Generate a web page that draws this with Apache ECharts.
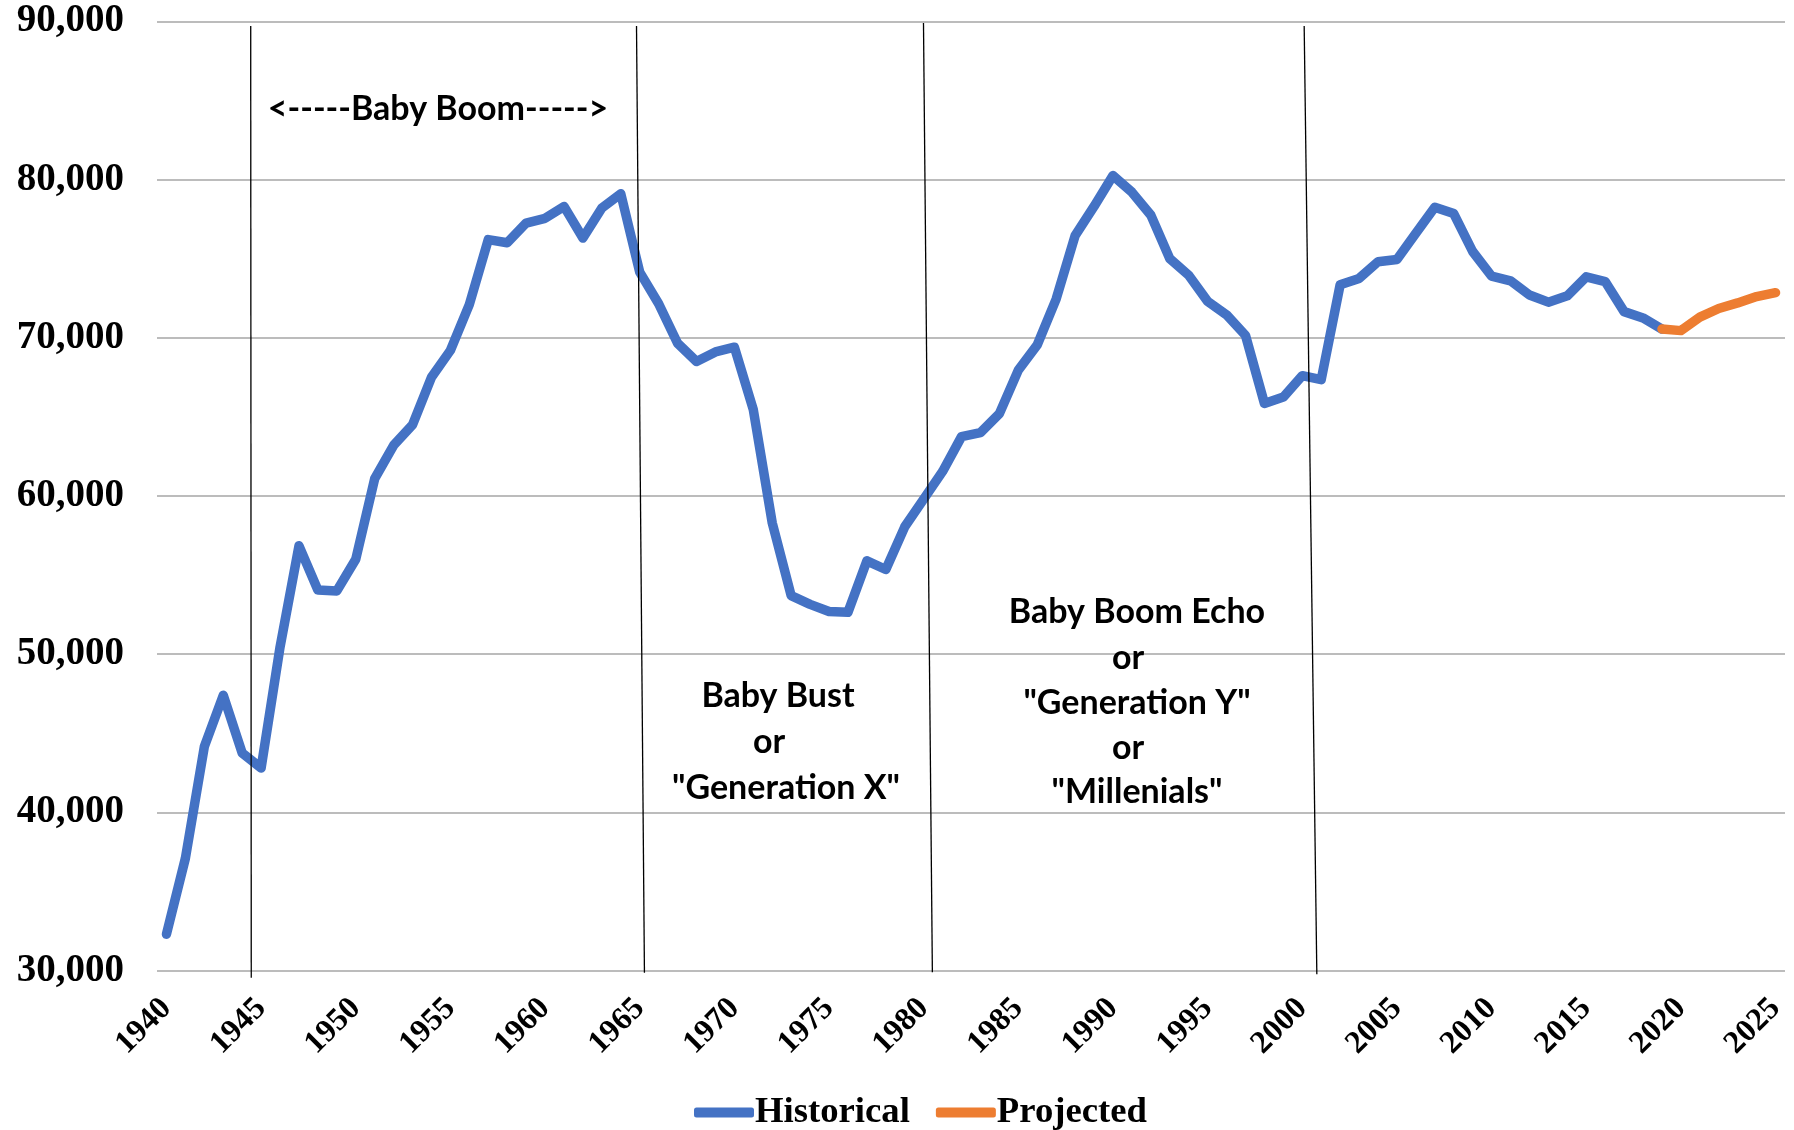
<!DOCTYPE html>
<html>
<head>
<meta charset="utf-8">
<script src="https://cdn.jsdelivr.net/npm/echarts@6/dist/echarts.min.js"></script>
<style>
html,body{margin:0;padding:0;background:#fff;}
#chart{width:1794px;height:1130px;}
</style>
</head>
<body>
<div id="chart"></div>
<script>
const years = ['1940','1941','1942','1943','1944','1945','1946','1947','1948','1949',
'1950','1951','1952','1953','1954','1955','1956','1957','1958','1959',
'1960','1961','1962','1963','1964','1965','1966','1967','1968','1969',
'1970','1971','1972','1973','1974','1975','1976','1977','1978','1979',
'1980','1981','1982','1983','1984','1985','1986','1987','1988','1989',
'1990','1991','1992','1993','1994','1995','1996','1997','1998','1999',
'2000','2001','2002','2003','2004','2005','2006','2007','2008','2009',
'2010','2011','2012','2013','2014','2015','2016','2017','2018','2019',
'2020','2021','2022','2023','2024','2025'];

// Historical 1940-2019
const historical = [32300,37100,44150,47400,43750,42800,50450,56850,54050,54000,
56000,61100,63200,64500,67500,69200,72100,76200,76000,77250,
77550,78300,76300,78200,79100,74150,72150,69650,68500,69100,
69400,65450,58300,53700,53150,52700,52650,55900,55350,58050,
59800,61550,63750,64000,65200,67950,69550,72450,76450,78300,
80250,79200,77750,75000,73950,72300,71450,70150,65850,66250,
67600,67350,73350,73750,74800,74950,76600,78250,77850,75450,
73900,73600,72700,72250,72650,73850,73550,71650,71250,70550];

// Projected 2019-2025
const projectedYears = ['2019','2020','2021','2022','2023','2024','2025'];
const projected = [70550,70450,71300,71850,72200,72600,72850];

const yTicks = [30000,40000,50000,60000,70000,80000,90000];

// Generation separator lines: [yearTop, valueTop, yearBottom, valueBottom]
const separators = [
  [1944.45, 89700, 1944.48, 29550],
  [1964.83, 89700, 1965.25, 29870],
  [1979.99, 89900, 1980.46, 29900],
  [2000.10, 89700, 2000.77, 29770]
];

const annotations = [
  {text:'<-----Baby Boom----->', x:438, y:109},
  {text:'Baby Bust', x:778, y:696},
  {text:'or', x:769, y:742},
  {text:'"Generation X"', x:786, y:788},
  {text:'Baby Boom Echo', x:1137, y:612},
  {text:'or', x:1128, y:658},
  {text:'"Generation Y"', x:1137, y:703},
  {text:'or', x:1128, y:748},
  {text:'"Millenials"', x:1137, y:792}
];

const chart = echarts.init(document.getElementById('chart'));

const series = [
  {
    name:'Historical', type:'line', data: historical,
    showSymbol:false, symbol:'none',
    lineStyle:{color:'#4472C4', width:9.5, cap:'round', join:'round'},
    itemStyle:{color:'#4472C4'}, z:3
  },
  {
    name:'Projected', type:'line',
    data: projectedYears.map((y,i)=>[y, projected[i]]),
    showSymbol:false, symbol:'none',
    lineStyle:{color:'#ED7D31', width:9.5, cap:'round', join:'round'},
    itemStyle:{color:'#ED7D31'}, z:4
  }
];
separators.forEach(s=>{
  series.push({
    type:'line', xAxisIndex:1, yAxisIndex:0, silent:true, clip:false,
    symbol:'none', showSymbol:false,
    data:[[s[0],s[1]],[s[2],s[3]]],
    lineStyle:{color:'#000', width:1.3}, z:5
  });
});

chart.setOption({
  animation:false,
  backgroundColor:'#fff',
  grid:{left:157, right:9, top:21.3, bottom:159.4, containLabel:false},
  xAxis:[
    {
      type:'category', data: years, boundaryGap:true,
      axisLine:{show:false}, axisTick:{show:false},
      axisLabel:{interval:4, rotate:45, margin:33, color:'#000',
        fontFamily:'Liberation Serif', fontWeight:'bold', fontSize:32},
      splitLine:{show:false}
    },
    {
      type:'value', min:1939.5, max:2025.5, show:false
    }
  ],
  yAxis:{
    type:'value', min:yTicks[0], max:yTicks[yTicks.length-1], interval:10000,
    axisLine:{show:false}, axisTick:{show:false},
    axisLabel:{margin:33, color:'#000', fontFamily:'Liberation Serif', fontWeight:'bold', fontSize:39,
      formatter:v=>v.toLocaleString('en-US')},
    splitLine:{lineStyle:{color:'#A6A6A6', width:1.5}}
  },
  legend:{
    data:['Historical','Projected'],
    left:689, top:1089,
    icon:'roundRect', itemWidth:60, itemHeight:10, itemGap:26,
    textStyle:{color:'#000', fontFamily:'Liberation Serif', fontWeight:'bold', fontSize:36.7,
      padding:[0,0,0,-4]}
  },
  graphic: annotations.map(a=>({
    type:'text', x:a.x, y:a.y, z:10, silent:true,
    style:{text:a.text, fill:'#000', font:'bold 34px Lato',
      textAlign:'center', textVerticalAlign:'middle', align:'center', verticalAlign:'middle'}
  })),
  series: series
});
</script>
</body>
</html>
